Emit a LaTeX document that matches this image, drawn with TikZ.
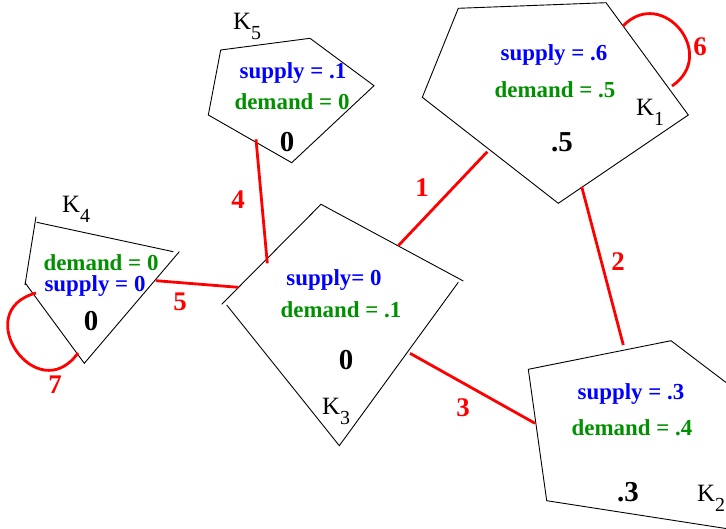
\documentclass[tikz,border=0pt]{standalone}
\usepackage{fontspec}
\setmainfont{Liberation Serif}
\usepackage{tikz}
\usetikzlibrary{positioning, calc}
\definecolor{supplyblue}{HTML}{0000FF}
\definecolor{demandgreen}{HTML}{009000}
\definecolor{linkred}{HTML}{FF0000}
\newcommand{\figfont}{\fontsize{23}{26}\selectfont}
\newcommand{\kname}[1]{K\raisebox{-10bp}{\fontsize{20}{20}\selectfont #1}}
\tikzset{
    region/.style={draw=black, line width=0.9bp},
    link/.style={draw=linkred, line width=2.8bp},
    linklabel/.style={text=linkred, font=\fontsize{27}{30}\selectfont\bfseries, inner sep=0pt},
    supplytxt/.style={text=supplyblue, font=\figfont\bfseries, inner sep=0pt},
    demandtxt/.style={text=demandgreen, font=\figfont\bfseries, inner sep=0pt},
    flowtxt/.style={text=black, font=\fontsize{29}{32}\selectfont\bfseries, inner sep=0pt},
    regionname/.style={text=black, font=\fontsize{25}{28}\selectfont, inner sep=0pt}
}

\begin{document}
\begin{tikzpicture}[x=1bp, y=-1bp]
        \useasboundingbox (0,0) rectangle (726,529);
        \clip (0,0) rectangle (726,529);

        % region outlines
        \draw[region] (220.7,50) -- (310,38.3) -- (374,85.7) -- (291.7,162.7) -- (208.3,115) -- cycle;
        \draw[region] (458.3,8.3) -- (606,2.7) -- (688.3,115) -- (558.3,203.3) -- (422.3,97.3) -- cycle;
        \draw[region] (25,285) -- (36,216.7) (36.7,222.3) -- (173.3,251.7) (179.3,251.7) -- (84.3,363.3) -- (25,282.7);
        \draw[region] (221.7,304.3) -- (321,204.3) -- (463.3,281) (458.3,282.3) -- (339.3,445.7) -- (226.7,305);
        \draw[region] (760,408.3) -- (671,340.7) -- (528.3,369.3) -- (546.7,500.7) -- (760,533.8);

        % texts
        \node[supplytxt] (k5s) at (293,73) {supply = .1};
        \node[demandtxt] (k5d) at (292,102) {demand = 0};
        \node[flowtxt] (k5f) at (287,142) {0};
        \node[regionname] (k5) at (247,26) {\kname{5}};

        \node[supplytxt] (k1s) at (554,55) {supply = .6};
        \node[demandtxt] (k1d) at (555,90) {demand = .5};
        \node[flowtxt] (k1f) at (562,142) {.5};
        \node[regionname] (k1) at (650,112) {\kname{1}};

        \node[demandtxt] (k4d) at (101,263) {demand = 0};
        \node[supplytxt] (k4s) at (95,286) {supply = 0};
        \node[flowtxt] (k4f) at (91,321) {0};
        \node[regionname] (k4) at (76,209) {\kname{4}};

        \node[supplytxt] (k3s) at (334,280) {supply= 0};
        \node[demandtxt] (k3d) at (341,310) {demand = .1};
        \node[flowtxt] (k3f) at (346,360) {0};
        \node[regionname] (k3) at (336,411) {\kname{3}};

        \node[supplytxt] (k2s) at (631,394) {supply = .3};
        \node[demandtxt] (k2d) at (632,428) {demand = .4};
        \node[flowtxt] (k2f) at (628,492) {.3};
        \node[regionname] (k2) at (711,498) {\kname{2}};

        % link ends
        \coordinate (k3n) at (398.3,245.7);
        \coordinate (k1sw) at (487.3,151.7);
        \coordinate (k1s) at (581.7,186.7);
        \coordinate (k2n) at (623.3,345);
        \coordinate (k3e) at (410,353.3);
        \coordinate (k2w) at (535,423.3);
        \coordinate (k5b) at (256,139.3);
        \coordinate (k3nw) at (267.3,263.3);
        \coordinate (k4e) at (156,280.7);
        \coordinate (k3w) at (238.3,287.3);
        \coordinate (k1ne) at (623,26);
        \coordinate (k1e) at (672,86);
        \coordinate (k4w) at (36,293);
        \coordinate (k4sw) at (78,353);

        \draw[link] (k3n) -- (k1sw);
        \draw[link] (k1s) -- (k2n);
        \draw[link] (k3e) -- (k2w);
        \draw[link] (k5b) -- (k3nw);
        \draw[link] (k4e) -- (k3w);
        \draw[link] (k1ne) .. controls (662.1,-14.5) and (718.7,54.5) .. (k1e);
        \draw[link] (k4w) .. controls (-31.4,311.1) and (37.2,409.7) .. (k4sw);

        \node[linklabel] (l1) at (422,188) {1};
        \node[linklabel] (l2) at (618,262) {2};
        \node[linklabel] (l3) at (463,408) {3};
        \node[linklabel] (l4) at (238,200) {4};
        \node[linklabel] (l5) at (180,302) {5};
        \node[linklabel] (l6) at (700,47) {6};
        \node[linklabel] (l7) at (55,385) {7};
    \end{tikzpicture}
\end{document}
